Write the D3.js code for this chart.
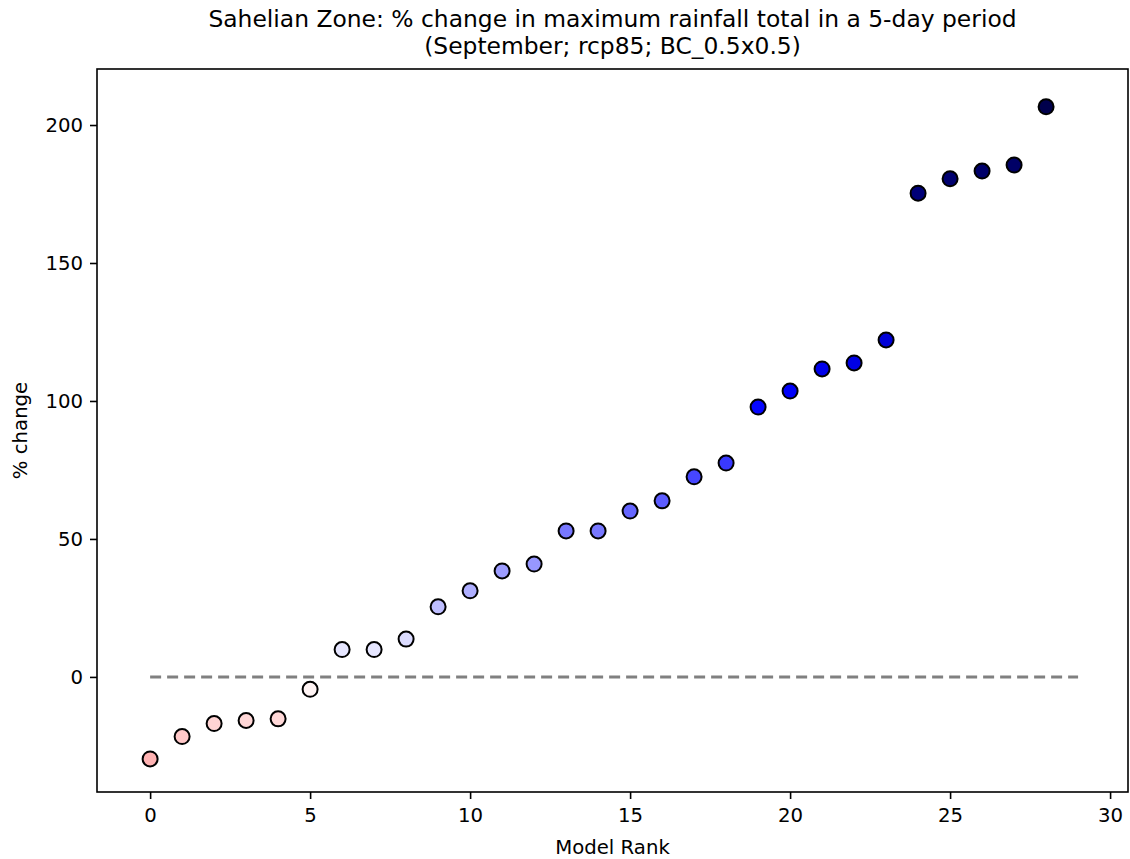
<!DOCTYPE html>
<html>
<head>
<meta charset="utf-8">
<script src="https://cdn.jsdelivr.net/npm/d3@7"></script>
<style>
  body { margin: 0; background: #fff; }
  svg { font-family: "DejaVu Sans", sans-serif; }
</style>
</head>
<body>
<svg class="chart"></svg>
<script>
// values (sorted model ranks)
const ranks = d3.range(29);
const pctChange = [-29.7, -21.6, -16.9, -15.8, -15.2, -4.5, 9.9, 9.9, 13.7, 25.4,
  31.2, 38.4, 40.9, 52.9, 52.9, 60.1, 63.8, 72.5, 77.5, 97.8,
  103.6, 111.6, 113.8, 122.1, 175.3, 180.5, 183.3, 185.5, 206.6];
const xTicks = [0, 5, 10, 15, 20, 25, 30];
const yTicks = [0, 50, 100, 150, 200];
const titleLines = ["Sahelian Zone: % change in maximum rainfall total in a 5-day period",
  "(September; rcp85; BC_0.5x0.5)"];

// Set the dimensions and margins of the graph
const margin = { top: 69, right: 2, bottom: 67, left: 97 },
  width = 1130 - margin.left - margin.right,
  height = 859 - margin.top - margin.bottom;

const svg = d3.select(".chart")
  .attr("width", 1130)
  .attr("height", 859);

const g = svg.append("g")
  .attr("transform", "translate(" + margin.left + "," + margin.top + ")");

const x = d3.scaleLinear().domain([-1.66, 30.56]).range([0, width]);
const y = d3.scaleLinear().domain([-41.7, 220.3]).range([height, 0]);

// reversed "seismic" colormap, -200..200
const color = d3.scaleLinear()
  .domain([-200, -100, 0, 100, 200])
  .range(["#800000", "#ff0000", "#ffffff", "#0000ff", "#00004c"])
  .clamp(true);

// zero reference line
g.append("line")
  .attr("x1", x(0))
  .attr("x2", x(ranks.length))
  .attr("y1", y(0))
  .attr("y2", y(0))
  .attr("stroke", "#808080")
  .attr("stroke-width", 3)
  .attr("stroke-dasharray", "11,6");

// points
g.selectAll(".dot")
  .data(ranks)
  .enter()
  .append("circle")
  .attr("class", "dot")
  .attr("cx", function (d) { return x(d); })
  .attr("cy", function (d) { return y(pctChange[d]); })
  .attr("r", 7.5)
  .attr("fill", function (d) { return color(pctChange[d]); })
  .attr("stroke", "#000")
  .attr("stroke-width", 2);

// axes
const xAxis = g.append("g")
  .attr("transform", "translate(0," + height + ")")
  .call(d3.axisBottom(x).tickValues(xTicks).tickSize(7).tickPadding(9).tickSizeOuter(0));
const yAxis = g.append("g")
  .call(d3.axisLeft(y).tickValues(yTicks).tickSize(7).tickPadding(7).tickSizeOuter(0));

[xAxis, yAxis].forEach(function (a) {
  a.select(".domain").remove();
  a.selectAll("line").attr("stroke", "#000").attr("stroke-width", 1.6);
  a.selectAll("text").attr("fill", "#000").style("font-size", "19.7px")
    .style("font-family", "DejaVu Sans, sans-serif");
});

// frame
g.append("rect")
  .attr("width", width)
  .attr("height", height)
  .attr("fill", "none")
  .attr("stroke", "#000")
  .attr("stroke-width", 1.6);

// title
svg.selectAll(".title")
  .data(titleLines)
  .enter()
  .append("text")
  .attr("class", "title")
  .attr("x", margin.left + width / 2)
  .attr("y", function (d, i) { return 27 + i * 27; })
  .style("text-anchor", "middle")
  .style("font-size", "23.4px")
  .text(function (d) { return d; });

// X axis label
svg.append("text")
  .attr("x", margin.left + width / 2)
  .attr("y", 854)
  .style("text-anchor", "middle")
  .style("font-size", "19.7px")
  .text("Model Rank");

// Y axis label
svg.append("text")
  .attr("transform", "translate(27," + (margin.top + height / 2) + ") rotate(-90)")
  .style("text-anchor", "middle")
  .style("font-size", "19.7px")
  .text("% change");
</script>
</body>
</html>
